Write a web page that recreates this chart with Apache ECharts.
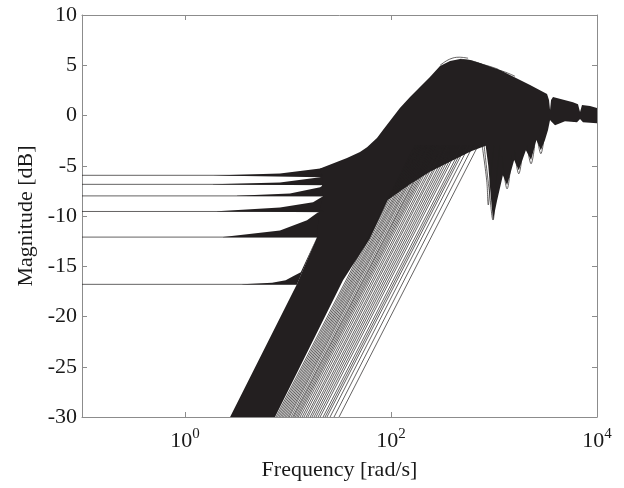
<!DOCTYPE html>
<html>
<head>
<meta charset="utf-8">
<script src="https://cdn.jsdelivr.net/npm/echarts@6/dist/echarts.min.js"></script>
<style>
  html, body { margin: 0; padding: 0; background: #fff; }
  #chart { width: 624px; height: 488px; }
</style>
</head>
<body>
<div id="chart"></div>
<script>
// all points are [frequency rad/s, magnitude dB]
var xTicks = [1, 100, 10000];

// flat low-frequency responses
var plateauLevels = [-5.95, -6.85, -8.0, -9.55, -12.1, -16.8];
var plateauEnds = [21.4, 21.4, 21.9, 21.9, 19.6, 12.2];

// fans of curves leaving each plateau
var wedgeA = [[1.87, -5.97], [8.36, -5.77], [20.5, -5.27], [25, -5.1], [25, -6.14], [21.4, -6.14], [1.87, -5.96]];
var wedgeB = [[1.87, -6.83], [8.36, -6.66], [20.5, -6.14], [21.4, -6.04], [25, -6.0], [25, -6.93], [1.87, -6.86]];
var wedgeC = [[3.2, -7.99], [10.45, -7.75], [20.5, -7.13], [21.9, -6.93], [25, -6.9], [25, -8.03], [3.2, -8.01]];
var wedgeD = [[2.05, -9.53], [8.36, -9.15], [17.5, -8.63], [21.9, -8.03], [25, -8.0], [25, -9.62], [2.05, -9.56]];
var wedgeE = [[2.34, -12.08], [8.36, -11.45], [15.3, -10.42], [19.6, -9.62], [25, -9.6], [25, -12.11], [2.34, -12.11]];
var wedgeF = [[3.6, -16.79], [7.0, -16.65], [9.5, -16.4], [11.2, -16.0], [13.3, -15.6], [19.1, -12.11], [12.2, -16.82], [3.6, -16.82]];

// outline of the dense bundle of curves
var bundle = [
  [2.74, -30], [12.2, -16.8], [19.1, -12.11], [20.0, -9.62], [21.9, -8.03], [21.4, -6.93],
  [21.4, -6.04], [20.5, -5.27], [37.4, -4.24], [50, -3.62], [58.5, -3.15], [73.1, -2.25],
  [83.6, -1.45], [122, 0.74], [153, 1.83], [239, 3.82], [299, 4.92], [374, 5.42], [468, 5.62],
  [585, 5.52], [731, 5.22], [1143, 4.52], [1430, 4.02], [2239, 3.03], [3273, 2.13], [3420, 1.53],
  [3500, 0.54], [3580, 1.53], [3740, 1.83], [5846, 1.33], [6541, 1.13], [6843, 0.34], [7151, 1.04],
  [8551, 0.94], [10000, 0.74], [10000, -0.76], [7311, -0.66], [6843, -0.36], [6397, -0.66],
  [4890, -0.56], [3912, -0.96], [3580, -0.56], [3500, -0.46], [3345, -1.45], [3126, -2.45],
  [2850, -3.45], [2580, -2.45], [2290, -4.44], [2040, -3.45], [1740, -5.44], [1570, -4.44],
  [1340, -6.93], [1220, -5.94], [1069, -8.5], [978, -10.42], [930, -8.0], [880, -5.0],
  [830, -3.0], [600, -3.55], [374, -4.6], [239, -5.6], [153, -6.85], [93, -8.4],
  [62, -12.3], [34.2, -16.39], [7.48, -30]
];

// separate curves on the lower right of the bundle
var thinStart = [7.65, 7.91, 8.18, 8.46, 8.74, 9.04, 9.35, 9.67, 10.0, 10.3, 10.7, 11.1, 11.4, 11.8,
  12.2, 12.6, 13.1, 13.7, 14.3, 15.0, 15.6, 16.4, 17.1, 17.9, 18.7, 19.6, 20.5, 21.9, 22.9, 23.9,
  25.6, 28.0, 31.3];
var thinEnd = [171, 177, 183, 190, 196, 202, 209, 217, 224, 231, 240, 249, 255, 264,
  273, 282, 293, 307, 320, 336, 349, 367, 383, 401, 419, 439, 459, 491, 513, 535,
  573, 627, 701];

// notches near 1 krad/s
var dips = [
  [[800, -2.9], [900, -7.5], [978, -10.4], [1040, -7], [1140, -3]],
  [[760, -2.7], [850, -6.5], [880, -8.9], [920, -6.5], [1000, -3]],
  [[1200, -4], [1340, -7.3], [1480, -4]],
  [[1580, -3.5], [1740, -5.8], [1900, -3.5]],
  [[2100, -3], [2290, -4.8], [2480, -3]],
  [[2650, -2.4], [2850, -3.8], [3050, -2.4]]
];

// loose curves along the top of the peak
var crests = [
  [[300, 5.0], [370, 5.6], [460, 5.8], [560, 5.7]],
  [[470, 5.6], [600, 5.45], [760, 5.1]],
  [[700, 5.2], [900, 4.9], [1100, 4.6]],
  [[1050, 4.6], [1300, 4.3], [1600, 3.9]]
];

var ink = '#231f20';
var axisGray = '#8c8c8c';
var textColor = '#1a1a1a';
var font = 'Liberation Serif';

var shapes = [wedgeA, wedgeB, wedgeC, wedgeD, wedgeE, wedgeF, bundle];

var series = [];
series.push({
  type: 'custom',
  clip: true,
  silent: true,
  data: shapes.map(function (s) { return s[0]; }),
  renderItem: function (params, api) {
    var pts = shapes[params.dataIndex].map(function (p) { return api.coord(p); });
    return { type: 'polygon', shape: { points: pts }, style: { fill: ink } };
  }
});

function addLine(data, smooth) {
  series.push({
    type: 'line',
    data: data,
    symbol: 'none',
    smooth: smooth ? 0.4 : false,
    silent: true,
    clip: true,
    lineStyle: { color: ink, width: 0.7 }
  });
}

plateauLevels.forEach(function (lvl, i) {
  addLine([[0.1, lvl], [plateauEnds[i], lvl]]);
});
thinStart.forEach(function (f, i) {
  addLine([[f, -30], [thinEnd[i], -3]]);
});
dips.forEach(function (d) { addLine(d, true); });
crests.forEach(function (d) { addLine(d, true); });

var chart = echarts.init(document.getElementById('chart'));
chart.setOption({
  animation: false,
  backgroundColor: '#fff',
  grid: { left: 82, top: 15, width: 515, height: 402, containLabel: false, outerBoundsMode: 'none' },
  xAxis: [{
    type: 'log',
    logBase: 10,
    min: 0.1,
    max: 10000,
    position: 'bottom',
    name: 'Frequency [rad/s]',
    nameLocation: 'middle',
    nameGap: 42,
    nameTextStyle: { fontFamily: font, fontSize: 22, color: textColor },
    axisLine: { show: true, onZero: false, lineStyle: { color: axisGray, width: 1 } },
    axisTick: { show: true, inside: true, length: 5, customValues: xTicks, lineStyle: { color: axisGray } },
    axisLabel: {
      customValues: xTicks,
      margin: 10,
      formatter: function (v) {
        var e = Math.round(Math.log(v) / Math.LN10);
        return '{b|10}{s|' + e + '}';
      },
      rich: {
        b: { fontFamily: font, fontSize: 22, color: textColor, verticalAlign: 'bottom' },
        s: { fontFamily: font, fontSize: 15, color: textColor, verticalAlign: 'bottom', padding: [0, 0, 10, 0] }
      }
    },
    splitLine: { show: false },
    minorTick: { show: false }
  }, {
    type: 'log',
    logBase: 10,
    min: 0.1,
    max: 10000,
    position: 'top',
    axisLine: { show: true, onZero: false, lineStyle: { color: axisGray, width: 1 } },
    axisTick: { show: true, inside: true, length: 5, customValues: xTicks, lineStyle: { color: axisGray } },
    axisLabel: { show: false },
    splitLine: { show: false }
  }],
  yAxis: [{
    type: 'value',
    min: -30,
    max: 10,
    interval: 5,
    position: 'left',
    name: 'Magnitude [dB]',
    nameLocation: 'middle',
    nameGap: 45,
    nameRotate: 90,
    nameTextStyle: { fontFamily: font, fontSize: 22, color: textColor },
    axisLine: { show: true, onZero: false, lineStyle: { color: axisGray, width: 1 } },
    axisTick: { show: true, inside: true, length: 5, lineStyle: { color: axisGray } },
    axisLabel: { margin: 5, fontFamily: font, fontSize: 22, color: textColor },
    splitLine: { show: false }
  }, {
    type: 'value',
    min: -30,
    max: 10,
    interval: 5,
    position: 'right',
    axisLine: { show: true, onZero: false, lineStyle: { color: axisGray, width: 1 } },
    axisTick: { show: true, inside: true, length: 5, lineStyle: { color: axisGray } },
    axisLabel: { show: false },
    splitLine: { show: false }
  }],
  series: series
});
</script>
</body>
</html>
